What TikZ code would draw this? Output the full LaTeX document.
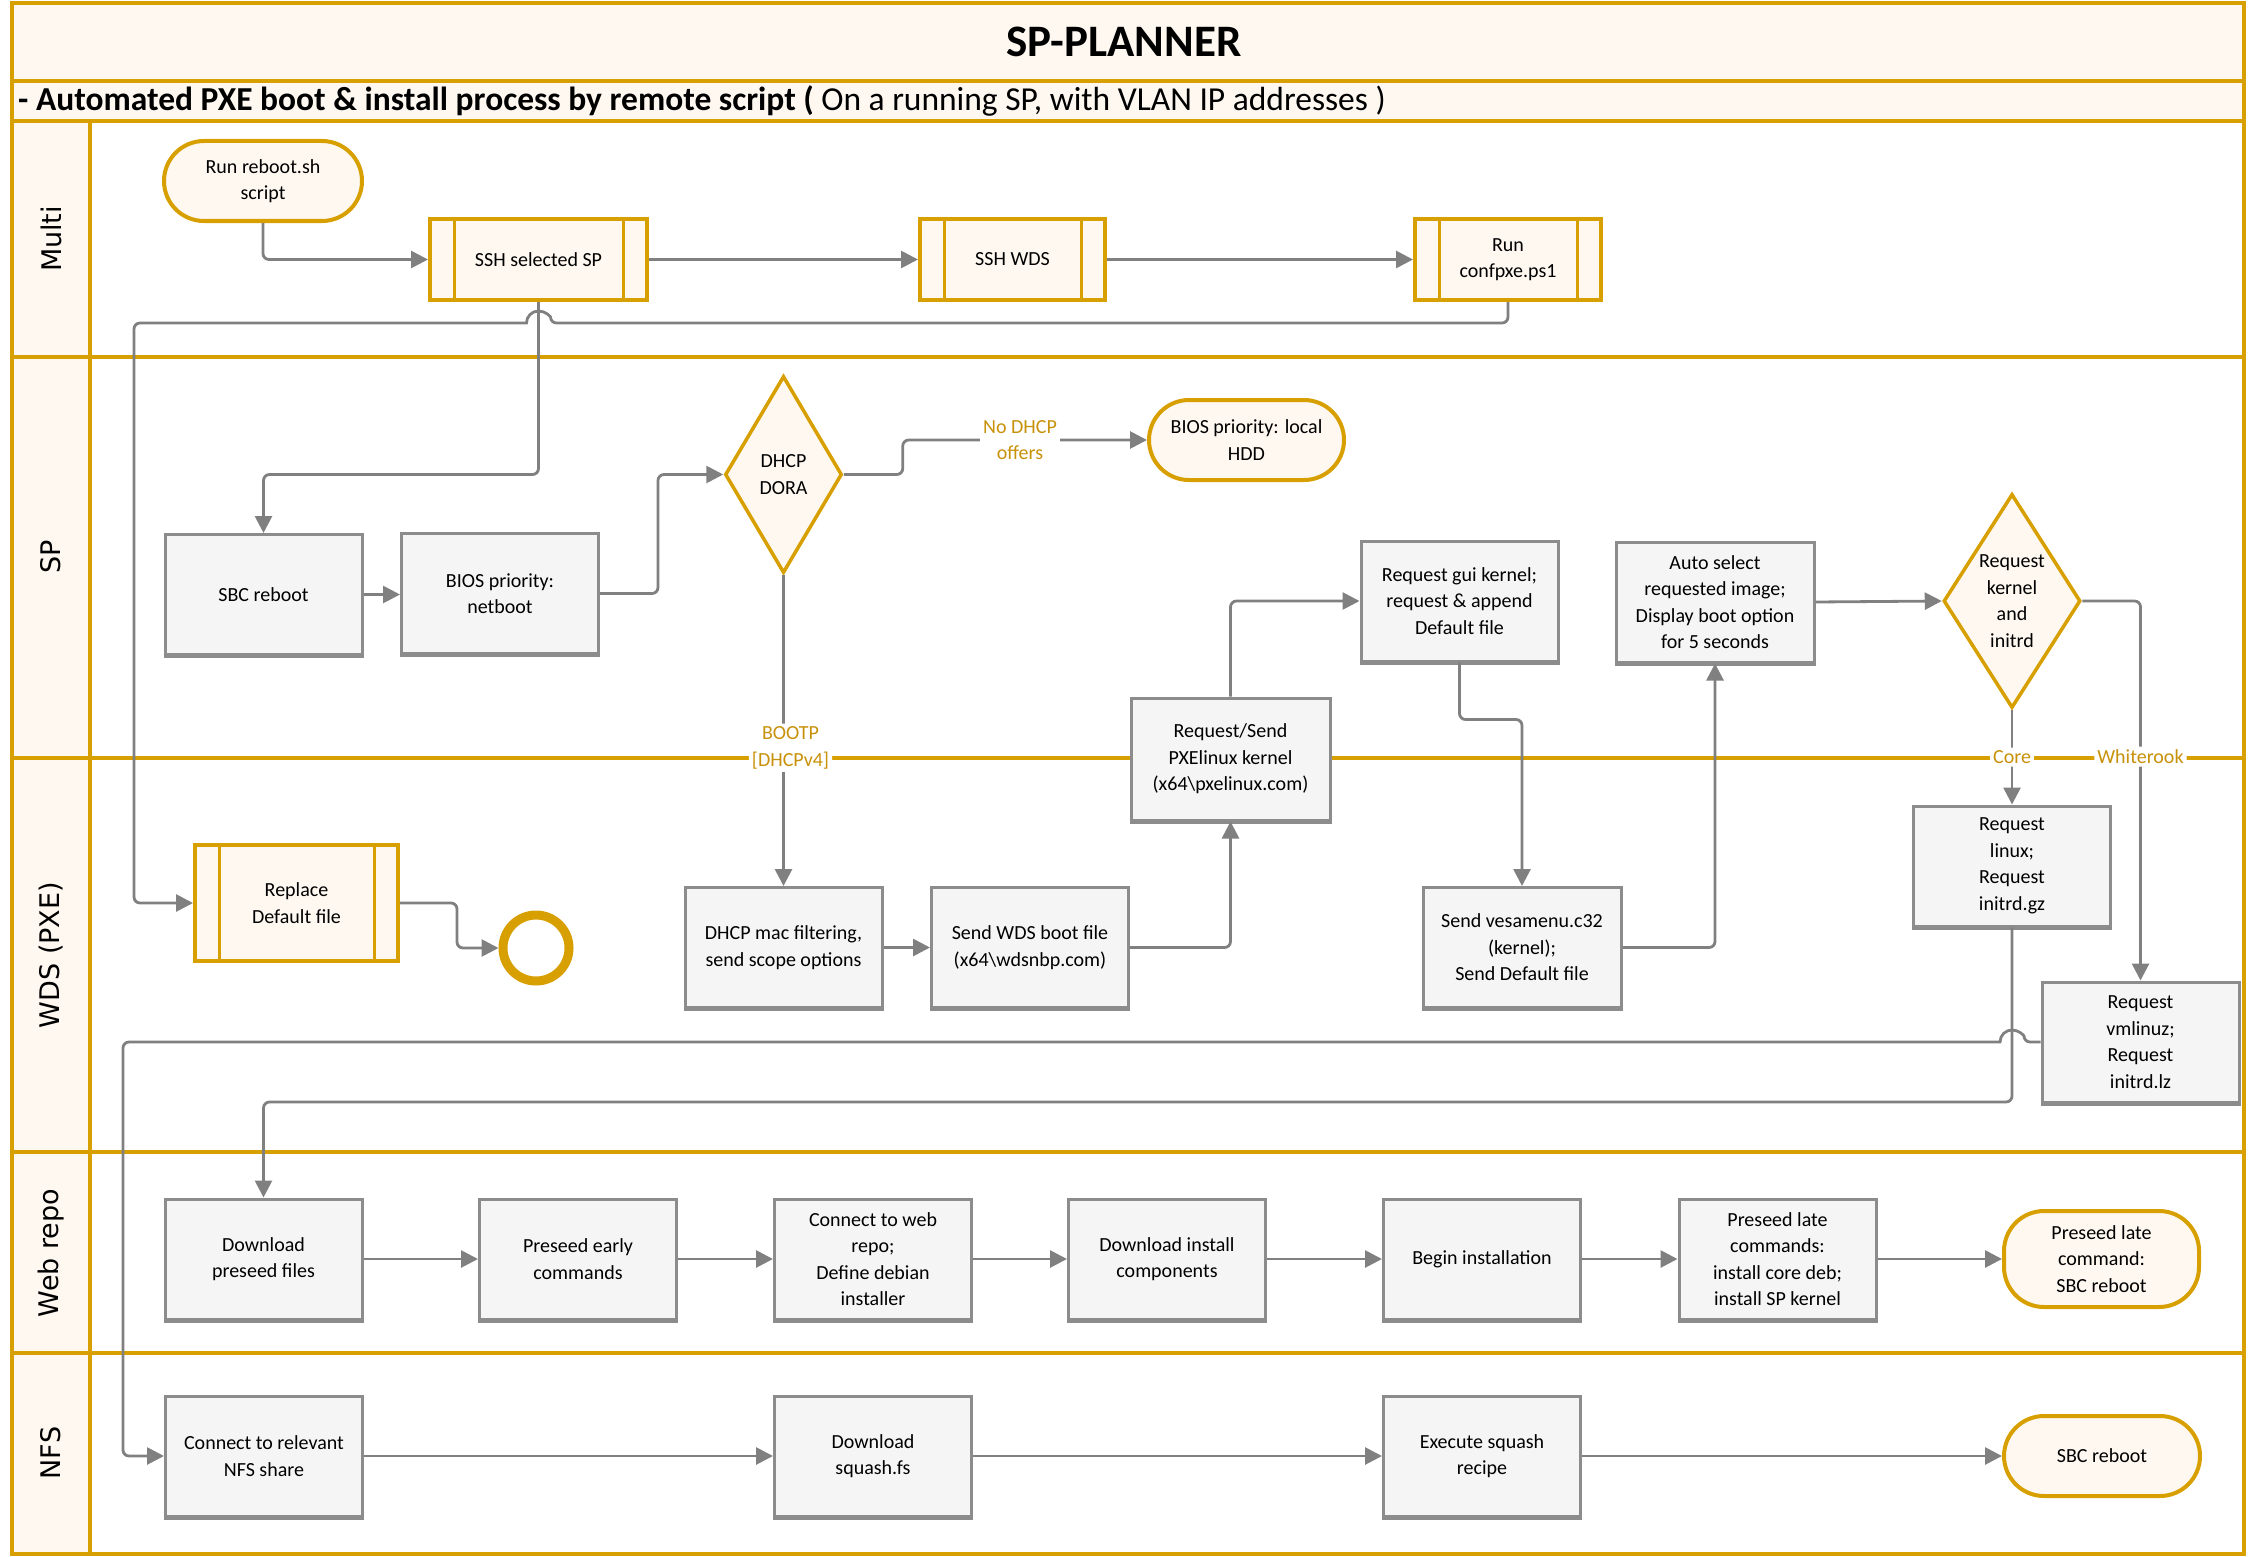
\documentclass[tikz,border=0pt]{standalone}
\usepackage{fontspec}
\setmainfont{Carlito}
\newfontfamily\lanefont{DejaVu Sans}
\usetikzlibrary{arrows.meta,shapes.geometric}

\definecolor{gold}{RGB}{215,160,0}
\definecolor{labelgold}{RGB}{200,145,10}
\definecolor{cream}{RGB}{254,248,241}
\definecolor{boxfill}{RGB}{245,245,245}
\definecolor{boxline}{RGB}{140,140,140}
\definecolor{flowgray}{RGB}{128,128,128}

\newcommand\flowfont{\fontsize{20}{26.5}\selectfont}

\begin{document}
\begin{tikzpicture}[x=1pt,y=-1pt,
lane/.style={draw=gold,line width=4pt},
lanename/.style={font=\lanefont\fontsize{27}{30}\selectfont,rotate=90},
box/.style={draw=boxline,fill=boxfill,line width=3pt,minimum width=197pt,minimum height=120pt,align=center,font=\flowfont,
  append after command={(\tikzlastnode.south west) edge[draw=boxline,line width=4.5pt] (\tikzlastnode.south east)}},
term/.style={draw=gold,fill=cream,line width=4pt,rounded corners=40pt,minimum width=196pt,minimum height=80pt,align=center,font=\flowfont},
sub/.style={draw=gold,fill=cream,line width=4pt,minimum height=81pt,align=center,font=\flowfont,
  path picture={\draw[gold,line width=3pt]
    ([xshift=24pt]path picture bounding box.north west) -- ([xshift=24pt]path picture bounding box.south west)
    ([xshift=-24pt]path picture bounding box.north east) -- ([xshift=-24pt]path picture bounding box.south east);}},
decision/.style={diamond,draw=gold,fill=cream,line width=3.5pt,inner sep=0pt,align=center,font=\flowfont},
flow/.style={draw=flowgray,line width=2.8pt,rounded corners=6pt,-{Triangle[length=17pt,width=17pt]}},
cond/.style={font=\flowfont,text=labelgold,fill=white,inner sep=3pt,align=center}]

\useasboundingbox (0,0) rectangle (2248,1557);

% Pool and lanes
\fill[cream] (12,3) rectangle (2244,121);
\fill[cream] (12,121) rectangle (90,1554);
\foreach \y in {81,121,357,758,1152,1353}
  \draw[lane] (12,\y) -- (2244,\y);
\draw[lane] (90,121) -- (90,1554);
\draw[lane] (12,3) rectangle (2244,1554);

\node[font=\fontsize{45}{50}\selectfont\bfseries,anchor=base] (title) at (1124,57) {SP-PLANNER};
\node[font=\fontsize{33.5}{38}\selectfont,anchor=base west,inner sep=0pt] (subtitle) at (18,111)
  {\textbf{- Automated PXE boot \& install process by remote script (} On a running SP, with VLAN IP addresses )};

\node[lanename] (lmulti) at (51,239) {Multi};
\node[lanename] (lsp) at (51,557) {SP};
\node[lanename] (lwds) at (51,955) {WDS (PXE)};
\node[lanename] (lweb) at (51,1253) {Web repo};
\node[lanename] (lnfs) at (51,1453) {NFS};

% Multi
\node[term,minimum width=198pt] (run) at (263,181) {Run reboot.sh\\script};
\node[sub,minimum width=217pt] (ssh) at (538.5,259.5) {SSH selected SP};
\node[sub,minimum width=185pt] (sshwds) at (1012.5,259.5) {SSH WDS};
\node[sub,minimum width=186pt] (confpxe) at (1508,259.5) {Run\\confpxe.ps1};

% SP
\node[box] (sbc) at (263.5,594.5) {SBC reboot};
\node[box] (bios) at (500,593.5) {BIOS priority:\\netboot};
\node[decision,minimum width=117pt,minimum height=197pt,aspect=0.6] (dora) at (783.5,474.5) {DHCP\\DORA};
\node[term,minimum width=195pt] (hdd) at (1246.5,440) {BIOS priority: local\\HDD};
\node[box] (gui) at (1459.5,601) {Request gui kernel;\\request \& append\\Default file};
\node[box,minimum width=198pt] (auto) at (1715,602) {Auto select\\requested image;\\Display boot option\\for 5 seconds};
\node[decision,minimum width=137pt,minimum height=214pt,aspect=0.64] (req) at (2012,601) {Request\\kernel\\and\\initrd};
\node[box,minimum width=199pt,minimum height=122pt] (pxe) at (1230.5,759) {Request/Send\\PXElinux kernel\\(x64\textbackslash pxelinux.com)};

% WDS (PXE)
\node[sub,minimum width=203pt,minimum height=116pt] (replace) at (296.5,903) {Replace\\Default file};
\node[circle,draw=gold,fill=white,line width=9pt,inner sep=0pt,minimum size=66pt] (endc) at (536,948) {};
\node[box] (dhcp) at (783.5,947.5) {DHCP mac filtering,\\send scope options};
\node[box] (wds) at (1030,947.5) {Send WDS boot file\\(x64\textbackslash wdsnbp.com)};
\node[box,minimum width=198pt] (vesa) at (1522,947.5) {Send vesamenu.c32\\(kernel);\\Send Default file};
\node[box] (linux) at (2012,866) {Request\\linux;\\Request\\initrd.gz};
\node[box] (vml) at (2140.5,1042) {Request\\vmlinuz;\\Request\\initrd.lz};

% Web repo
\node[box] (dlpre) at (263.5,1259) {Download\\preseed files};
\node[box] (early) at (578,1259) {Preseed early\\commands};
\node[box] (webrepo) at (873,1259) {Connect to web\\repo;\\Define debian\\installer};
\node[box] (dlinst) at (1167,1259) {Download install\\components};
\node[box] (begin) at (1482,1259) {Begin installation};
\node[box] (late) at (1777.5,1259) {Preseed late\\commands:\\install core deb;\\install SP kernel};
\node[term,minimum width=195pt,minimum height=96pt] (lateend) at (2101.5,1259) {Preseed late\\command:\\SBC reboot};

% NFS
\node[box] (nfs) at (264,1456) {Connect to relevant\\NFS share};
\node[box] (squash) at (873,1456) {Download\\squash.fs};
\node[box] (exec) at (1482,1456) {Execute squash\\recipe};
\node[term] (sbcend) at (2102,1456) {SBC reboot};

% Connectors
\coordinate (hopA) at (ssh.south |- 0,323);
\coordinate (hopB) at (linux.south |- vml.west);

\draw[flow] (run.south) |- (ssh.west);
\draw[flow] (ssh) -- (sshwds);
\draw[flow] (sshwds) -- (confpxe);
\draw[flow] (confpxe.south) |- ([xshift=12pt]hopA) [sharp corners] arc[start angle=0,end angle=180,radius=12pt]
  [rounded corners=6pt] -| ([xshift=-59pt]replace.west) -- (replace.west);
\draw[flow] (ssh.south) -- (ssh.south |- dora.west) -| (sbc.north);
\draw[flow] (sbc.east) -- (sbc.east -| bios.west);
\draw[flow] (bios.east) -- ++(58,0) |- (dora.west);
\draw[flow] (dora.east) -- ++(59,0) |- node[cond,pos=0.74] {No DHCP\\offers} (hdd.west);
\draw[flow] (dora.south) -- node[cond,pos=0.556,xshift=7pt] {BOOTP\\{[DHCPv4]}} (dhcp.north);
\draw[flow] (dhcp) -- (wds);
\draw[flow] (wds.east) -| (pxe.south);
\draw[flow] (pxe.north) |- (gui.west);
\draw[flow] (gui.south) -- ++(0,57) -| (vesa.north);
\draw[flow] (vesa.east) -| (auto.south);
\draw[flow] (auto.east) -- (req.west);
\draw[flow] (req.south) -- node[cond,pos=0.5] {Core} (linux.north);
\draw[flow] (req.east) -| node[cond,pos=0.705] {Whiterook} (vml.north);
\draw[flow] (linux.south) -- (linux.south |- 0,1102) -| (dlpre.north);
\draw[flow] (vml.west) -- ([xshift=12pt]hopB) [sharp corners] arc[start angle=0,end angle=180,radius=12pt]
  [rounded corners=6pt] -| ([xshift=-41pt]nfs.west) -- (nfs.west);
\draw[flow] (replace.east) -- ++(57,0) |- (endc.west);

\draw[flow] (dlpre) -- (early);
\draw[flow] (early) -- (webrepo);
\draw[flow] (webrepo) -- (dlinst);
\draw[flow] (dlinst) -- (begin);
\draw[flow] (begin) -- (late);
\draw[flow] (late) -- (lateend);

\draw[flow] (nfs) -- (squash);
\draw[flow] (squash) -- (exec);
\draw[flow] (exec) -- (sbcend);

\end{tikzpicture}
\end{document}
